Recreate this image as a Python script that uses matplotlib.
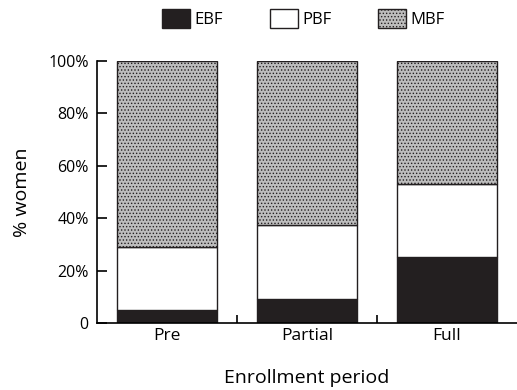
import matplotlib
matplotlib.use("Agg")
import matplotlib.pyplot as plt
import numpy as np

plt.rcParams['font.family'] = ['Open Sans', 'DejaVu Sans']
plt.rcParams['hatch.color'] = '#7a7a7a'
plt.rcParams['hatch.linewidth'] = 0.6

periods = ['Pre', 'Partial', 'Full']
ebf = [5, 9, 25]
pbf = [24, 28.5, 28]
mbf = [71, 62.5, 47]
yticks = [0, 20, 40, 60, 80, 100]
ytick_labels = ['0', '20%', '40%', '60%', '80%', '100%']

fig = plt.figure(figsize=(5.17, 3.9), dpi=100)
ax = fig.add_axes([0.1876, 0.172, 0.8124, 0.672])

x = np.arange(len(periods))
w = 0.72
b1 = ax.bar(x, ebf, w, color='#231f20', edgecolor='#231f20', linewidth=1)
b2 = ax.bar(x, pbf, w, bottom=ebf, color='white', edgecolor='#231f20', linewidth=1)
bottom2 = np.array(ebf) + np.array(pbf)
b3 = ax.bar(x, mbf, w, bottom=bottom2, color='#bdbdbd', edgecolor='#231f20',
            linewidth=1, hatch='.....')

ax.set_xlim(-0.5, 2.5)
ax.set_ylim(0, 100)
ax.set_yticks(yticks)
ax.set_yticklabels(ytick_labels)
# ticks sit between the bars, labels at the bar centres
ax.set_xticks([0.5, 1.5])
ax.set_xticklabels([])
ax.set_xticks(x, minor=True)
ax.set_xticklabels(periods, minor=True)
ax.tick_params(axis='x', which='minor', length=0, pad=4, labelsize=12.5)
ax.tick_params(axis='x', which='major', direction='in', length=6, width=1.2)
ax.tick_params(axis='y', direction='in', length=7, width=1.2, labelsize=11.5, pad=6)

for s in ['top', 'right']:
    ax.spines[s].set_visible(False)
ax.spines['left'].set_linewidth(1.2)
ax.spines['bottom'].set_linewidth(1.2)

ax.set_ylabel('% women', fontsize=14, labelpad=12)
ax.set_xlabel('Enrollment period', fontsize=14, labelpad=18)

fig.legend([b1, b2, b3], ['EBF', 'PBF', 'MBF'], loc='center',
           bbox_to_anchor=(0.587, 0.953), ncol=3, frameon=False, fontsize=12,
           handlelength=1.7, handleheight=1.35, handletextpad=0.25, columnspacing=2.8)

fig.savefig('out.png', dpi=100)
